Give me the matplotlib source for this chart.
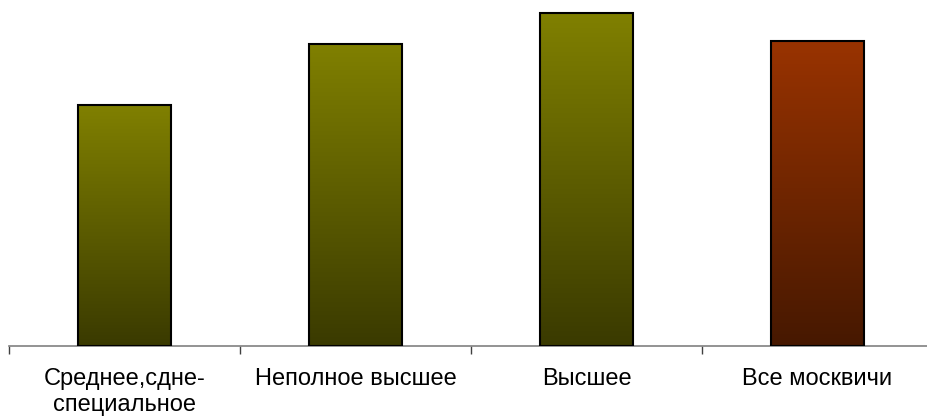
import numpy as np
import matplotlib.pyplot as plt
from matplotlib.colors import LinearSegmentedColormap

# Education groups and bar heights
categories = ['Среднее,сдне-\nспециальное', 'Неполное высшее', 'Высшее', 'Все москвичи']
values = [24.1, 30.2, 33.3, 30.5]
# top / bottom colours of each bar's gradient
top_colors = ['#808000', '#808000', '#808000', '#993300']
bottom_colors = ['#3a3a00', '#3a3a00', '#3a3a00', '#461800']

plt.rcParams['font.family'] = ['Liberation Sans', 'DejaVu Sans']

fig = plt.figure(figsize=(9.28, 4.16), dpi=100)
ax = fig.add_axes([9 / 928, 1 - 346 / 416, 924 / 928, 346 / 416])

x = np.arange(len(categories))
bars = ax.bar(x, values, width=0.4, facecolor='none', edgecolor='black',
              linewidth=1.5, zorder=3)

grad = np.linspace(1, 0, 256).reshape(-1, 1)
for bar, c_top, c_bot in zip(bars, top_colors, bottom_colors):
    cmap = LinearSegmentedColormap.from_list('g', [c_bot, c_top])
    x0, y0 = bar.get_x(), bar.get_y()
    w, h = bar.get_width(), bar.get_height()
    im = ax.imshow(grad, cmap=cmap, aspect='auto', extent=[x0, x0 + w, y0, y0 + h],
                   zorder=2, interpolation='bilinear')
    im.set_clip_path(bar)

ax.set_xlim(-0.5, 3.5)
ax.set_ylim(0, 34.6)

for s in ['top', 'right', 'left']:
    ax.spines[s].set_visible(False)
ax.spines['bottom'].set_color('#808080')
ax.spines['bottom'].set_linewidth(1.2)
ax.set_yticks([])

ax.set_xticks(np.arange(-0.5, 4.0, 1.0), minor=False)
ax.set_xticklabels([])
ax.tick_params(axis='x', which='major', length=6, color='#404040', width=1)
ax.set_xticks(x, minor=True)
ax.set_xticklabels(categories, minor=True, fontsize=17, linespacing=1.25)
ax.tick_params(axis='x', which='minor', length=0, pad=16)

fig.savefig('out.png', dpi=100, facecolor='white')
